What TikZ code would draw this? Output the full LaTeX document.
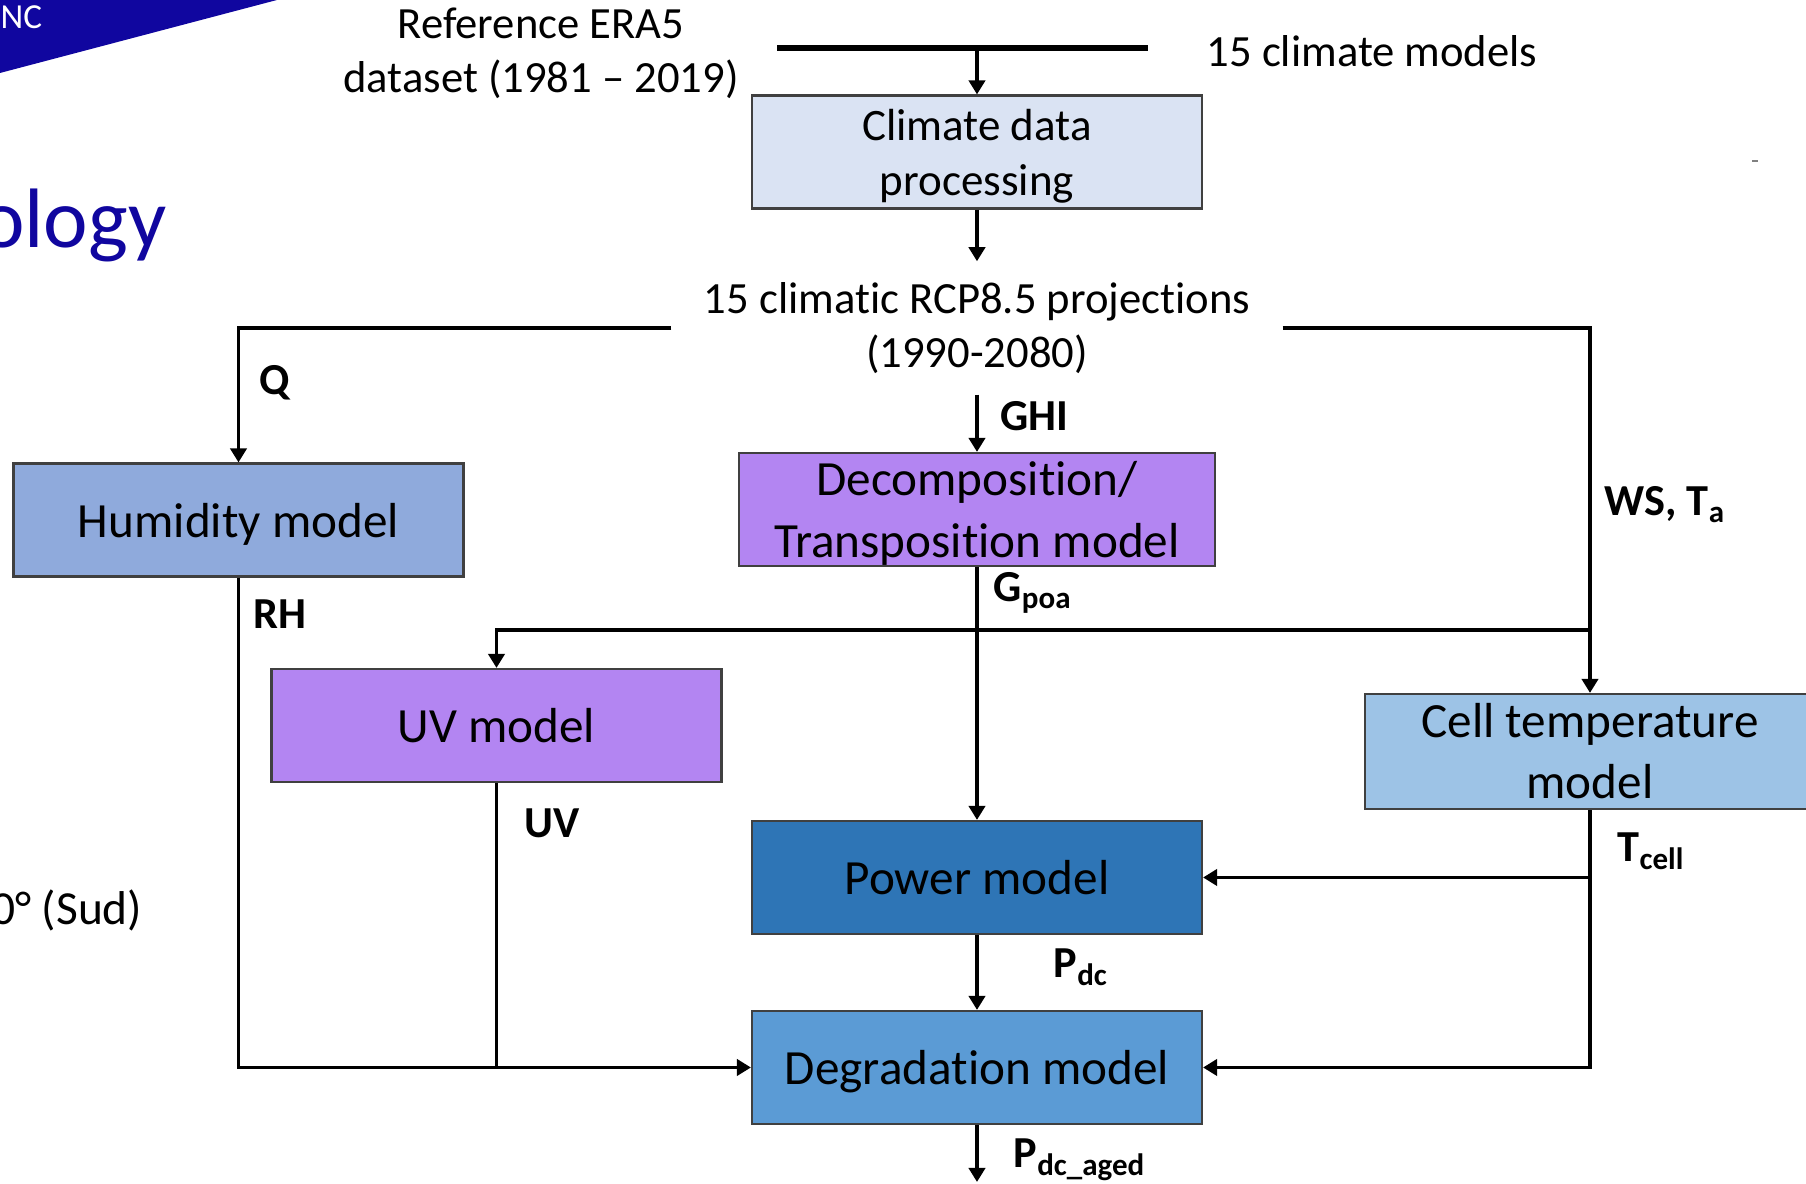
\documentclass[tikz,border=0pt]{standalone}
\usepackage{fontspec}
\setmainfont{Carlito}[Ligatures=NoCommon]
\usepackage{xcolor}
\usepackage{tikz}
\usetikzlibrary{arrows.meta,positioning,calc}
\definecolor{paleblue}{HTML}{DAE3F3}
\definecolor{humidblue}{HTML}{8FAADC}
\definecolor{lilac}{HTML}{B385F2}
\definecolor{skyblue}{HTML}{9DC3E6}
\definecolor{deepblue}{HTML}{2E75B6}
\definecolor{midblue}{HTML}{5B9BD5}
\definecolor{navy}{HTML}{10069F}
\definecolor{edgegray}{HTML}{404040}
\tikzset{
  model/.style={draw=edgegray, line width=0.6pt, align=center, inner sep=0pt, minimum width=45mm, minimum height=11.3mm, font=\fontsize{14}{17.4}\selectfont},
  plain/.style={align=center, inner sep=0pt, font=\fontsize{12.7}{15.4}\selectfont},
  flow/.style={line width=1.1pt, draw=black},
  arrow/.style={flow, -{Triangle[length=4pt, width=4.6pt]}},
  tag/.style={anchor=base west, inner sep=0pt, font=\fontsize{12.6}{15}\selectfont\bfseries}
}

\begin{document}
\begin{tikzpicture}
  \useasboundingbox (0,0) rectangle (18.06,11.84);
  % slide leftovers
  \fill[navy] (0,11.84) -- (2.77,11.84) -- (0,11.11) -- cycle;
  \node[anchor=base west, inner sep=0pt, text=white, font=\fontsize{10}{11}\selectfont] (nc) at (0,11.55) {NC};
  \node[anchor=base east, inner sep=0pt, text=navy, font=\fontsize{24}{28}\selectfont] (title) at (1.67,9.36) {ology};
  \node[anchor=base east, inner sep=0pt, font=\fontsize{13.5}{16}\selectfont] (azim) at (1.43,2.59) {0° (Sud)};
  \draw[gray, line width=0.8pt] (17.52,10.23) -- (17.58,10.23);

  % inputs
  \node[plain] (era5) at (5.41,11.31) {Reference ERA5\\dataset (1981 – 2019)};
  \node[plain, anchor=west] (models) at (12.06,11.33) {15 climate models};
  \coordinate (barl) at (7.77,11.36);
  \coordinate (barr) at (11.48,11.36);
  \node[model, fill=paleblue, text depth=0pt, font=\fontsize{12.8}{15.6}\selectfont] (clim) at (9.77,10.32) {Climate data\\processing};
  \node[plain, minimum width=61mm, minimum height=13.2mm] (proj) at (9.77,8.56) {15 climatic RCP8.5 projections\\(1990-2080)};

  % models
  \node[model, fill=humidblue, text depth=0pt] (humid) at (2.385,6.64) {Humidity model};
  \node[model, fill=lilac, text depth=0pt, minimum width=47.6mm] (decomp) at (9.77,6.745) {Decomposition/\\Transposition model};
  \node[model, fill=lilac] (uv) at (4.965,4.585) {UV model};
  \node[model, fill=skyblue, minimum height=11.5mm] (cell) at (15.9,4.325) {Cell temperature\\model};
  \node[model, fill=deepblue] (power) at (9.77,3.065) {Power model};
  \node[model, fill=midblue, text depth=0pt] (degr) at (9.77,1.165) {Degradation model};
  \coordinate (split) at (15.9,5.54);
  \coordinate (out) at (9.77,0.02);

  % connectors
  \draw[flow, line width=1.8pt] (barl) -- (barr);
  \draw[arrow] (clim.north |- barl) -- (clim.north);
  \draw[arrow] (clim) -- (proj);
  \draw[arrow] (proj) -- (decomp);
  \draw[arrow] (proj.west) -| (humid.north);
  \draw[arrow] (proj.east) -| (cell.north);
  \draw[arrow] (split) -| (uv.north);
  \draw[arrow] (decomp) -- (power);
  \draw[arrow] (power) -- (degr);
  \draw[arrow] (degr) -- (out);
  \draw[arrow] (cell.south) |- (degr.east);
  \draw[arrow] (cell.south |- power.east) -- (power.east);
  \draw[arrow] (humid.south) |- (degr.west);
  \draw[flow] (uv.south) -- (uv.south |- degr.west);

  % labels
  \node[tag] (q) at (2.59,7.89) {Q};
  \node[tag] (ghi) at (10.00,7.53) {GHI};
  \node[tag] (wsta) at (16.04,6.68) {WS, T\textsubscript{a}};
  \node[tag] (rh) at (2.53,5.55) {RH};
  \node[tag] (gpoa) at (9.93,5.82) {G\textsubscript{poa}};
  \node[tag] (uvtag) at (5.24,3.46) {UV};
  \node[tag] (tcell) at (16.17,3.22) {T\textsubscript{cell}};
  \node[tag] (pdc) at (10.53,2.06) {P\textsubscript{dc}};
  \node[tag] (pdcaged) at (10.13,0.16) {P\textsubscript{dc\_aged}};
\end{tikzpicture}
\end{document}
